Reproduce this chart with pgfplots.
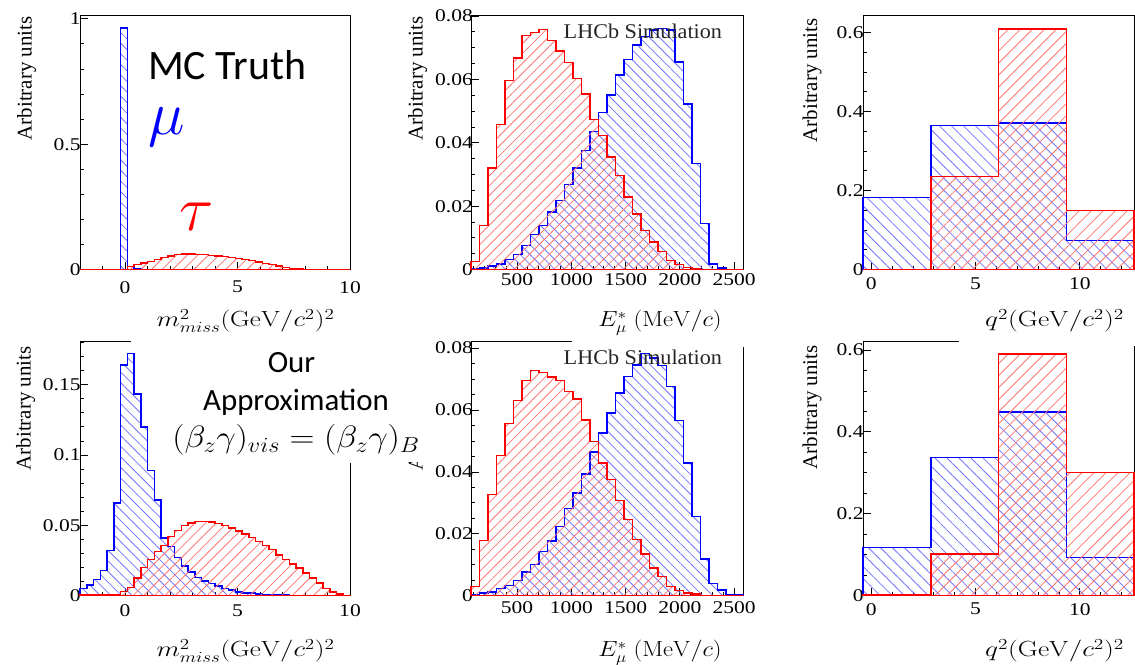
\RequirePackage{fix-cm}
\documentclass[border=0pt]{standalone}
\usepackage[no-math]{fontspec}
\setmainfont{Liberation Serif}
\newfontfamily\calibri{Carlito}
\usepackage{pgfplots}
\usepackage{pgfplotstable}
\pgfplotsset{compat=1.18}
\usetikzlibrary{patterns.meta}

% m^2_miss, MC truth: bin left edge, tau and mu contents (last row closes the last bin)
\pgfplotstableread{
edge tau mu
-2.0 0 0
-1.7 0 0
-1.4 0 0
-1.1 0 0
-0.8 0 0
-0.5 0 0
-0.2 0 0.964
0.1 0.012 0.012
0.4 0.020 0.004
0.7 0.027 0
1.0 0.033 0
1.3 0.040 0
1.6 0.048 0
1.9 0.055 0
2.2 0.060 0
2.5 0.0626 0
2.8 0.0626 0
3.1 0.061 0
3.4 0.060 0
3.7 0.057 0
4.0 0.055 0
4.3 0.052 0
4.6 0.048 0
4.9 0.044 0
5.2 0.040 0
5.5 0.036 0
5.8 0.031 0
6.1 0.025 0
6.4 0.020 0
6.7 0.015 0
7.0 0.009 0
7.3 0.005 0
7.6 0.003 0
7.9 0 0
8.2 0 0
8.5 0 0
8.8 0 0
9.1 0 0
9.4 0 0
9.7 0 0
10.0 0 0
}\mmtrue

% m^2_miss, approximation
\pgfplotstableread{
edge tau mu
-2.0 0.0004 0.0050
-1.7 0.0004 0.0075
-1.4 0.0004 0.0115
-1.1 0.0004 0.0180
-0.8 0.0006 0.0320
-0.5 0.0010 0.0660
-0.2 0.0030 0.1640
0.1 0.0060 0.1720
0.4 0.0125 0.1435
0.7 0.0200 0.1200
1.0 0.0258 0.0890
1.3 0.0315 0.0680
1.6 0.0358 0.0410
1.9 0.0420 0.0350
2.2 0.0465 0.0270
2.5 0.0498 0.0210
2.8 0.0517 0.0170
3.1 0.0526 0.0130
3.4 0.0526 0.0105
3.7 0.0522 0.0085
4.0 0.0512 0.0068
4.3 0.0498 0.0052
4.6 0.0480 0.0040
4.9 0.0460 0.0028
5.2 0.0440 0.0020
5.5 0.0415 0.0018
5.8 0.0386 0.0012
6.1 0.0358 0.0008
6.4 0.0327 0.0007
6.7 0.0290 0.0006
7.0 0.0258 0.0005
7.3 0.0225 0
7.6 0.0197 0
7.9 0.0161 0
8.2 0.0126 0
8.5 0.0090 0
8.8 0.0050 0
9.1 0.0026 0
9.4 0.0012 0
9.7 0.0003 0
10.0 0.0003 0
}\mmapprox

% E*_mu, MC truth
\pgfplotstableread{
edge tau mu
76 0.0026 0.0002
154.3 0.0139 0.0005
232.6 0.0320 0.0011
310.9 0.0457 0.0018
389.2 0.0597 0.0032
467.5 0.0667 0.0047
545.8 0.0738 0.0076
624.1 0.0748 0.0110
702.4 0.0757 0.0139
780.7 0.0723 0.0181
859.0 0.0690 0.0218
937.3 0.0653 0.0268
1015.6 0.0602 0.0320
1093.9 0.0553 0.0376
1172.2 0.0474 0.0436
1250.5 0.0423 0.0495
1328.8 0.0355 0.0550
1407.1 0.0297 0.0613
1485.4 0.0229 0.0662
1563.7 0.0176 0.0708
1642.0 0.0124 0.0735
1720.3 0.0087 0.0755
1798.6 0.0057 0.0760
1876.9 0.0029 0.0755
1955.2 0.0016 0.0655
2033.5 0.0006 0.0523
2111.8 0.0002 0.0334
2190.1 0 0.0145
2268.4 0 0.0018
2346.7 0 0.0005
2425.0 0 0
2503.3 0 0
2581.6 0 0
}\emtrue

% E*_mu, approximation
\pgfplotstableread{
edge tau mu
76 0.0030 0.0002
154.3 0.0178 0.0009
232.6 0.0327 0.0012
310.9 0.0453 0.0023
389.2 0.0556 0.0033
467.5 0.0631 0.0049
545.8 0.0695 0.0077
624.1 0.0728 0.0100
702.4 0.0721 0.0143
780.7 0.0706 0.0176
859.0 0.0695 0.0224
937.3 0.0659 0.0281
1015.6 0.0636 0.0332
1093.9 0.0568 0.0394
1172.2 0.0498 0.0464
1250.5 0.0429 0.0526
1328.8 0.0375 0.0591
1407.1 0.0308 0.0655
1485.4 0.0246 0.0708
1563.7 0.0181 0.0746
1642.0 0.0135 0.0782
1720.3 0.0089 0.0768
1798.6 0.0062 0.0743
1876.9 0.0030 0.0676
1955.2 0.0017 0.0566
2033.5 0.0009 0.0428
2111.8 0.0005 0.0256
2190.1 0 0.0118
2268.4 0 0.0040
2346.7 0 0.0018
2425.0 0 0.0003
2503.3 0 0.0002
2581.6 0 0.0002
}\emapprox

% q^2, MC truth
\pgfplotstableread{
edge tau mu
-0.4 0 0.182
2.85 0.235 0.364
6.1 0.609 0.371
9.35 0.149 0.074
12.6 0.149 0.074
}\qqtrue

% q^2, approximation
\pgfplotstableread{
edge tau mu
-0.4 0.002 0.118
2.85 0.102 0.337
6.1 0.590 0.448
9.35 0.301 0.093
12.6 0.301 0.093
}\qqapprox

\pgfplotsset{
  rootframe/.style={
    scale only axis, width=271bp, height=254.6bp, anchor=south west,
    ymin=0, clip=false,
    tick pos=left, tick align=inside,
    major tick length=8bp, minor tick length=4bp,
    tick style={black, line width=0.8bp},
    axis line style={line width=0.9bp},
    scaled ticks=false,
    /pgf/number format/assume math mode=true,
    ticklabel style={font=\fontsize{18}{21}\selectfont, xscale=1.2},
    yticklabel style={xshift=4bp},
  },
  openframe/.style={axis line style={draw=none}},
  muhist/.style={const plot, draw=blue, line width=1.5bp, line join=miter,
    pattern={Lines[angle=-45, distance=#1, line width=0.8bp]}, pattern color=blue!55},
  muhist/.default=7.5bp,
  tauhist/.style={const plot, draw=red, line width=1.5bp, line join=miter,
    pattern={Lines[angle=45, distance=#1, line width=0.8bp]}, pattern color=red!55},
  tauhist/.default=7.5bp,
  mmaxis/.style={xmin=-2, xmax=10,
    xtick={0,5,10}, xticklabels={0,5,10}, minor xtick={-1,1,2,3,4,6,7,8,9}},
  emaxis/.style={xmin=76, xmax=2581.6,
    xtick={500,1000,1500,2000,2500}, xticklabels={500,1000,1500,2000,2500},
    minor xtick={100,200,300,400,600,700,800,900,1100,1200,1300,1400,1600,1700,1800,1900,2100,2200,2300,2400},
    ytick={0,0.02,0.04,0.06,0.08}, yticklabels={0,0.02,0.04,0.06,0.08},
    minor ytick={0.005,0.01,0.015,0.025,0.03,0.035,0.045,0.05,0.055,0.065,0.07,0.075}},
  qqaxis/.style={xmin=-0.4, xmax=12.6,
    xtick={0,5,10}, xticklabels={0,5,10}, minor xtick={1,2,3,4,6,7,8,9,11,12},
    ytick={0,0.2,0.4,0.6}, yticklabels={0,0.2,0.4,0.6},
    minor ytick={0.05,0.1,0.15,0.25,0.3,0.35,0.45,0.5,0.55}},
}

\begin{document}
\begin{tikzpicture}[x=1bp, y=1bp]
\path[use as bounding box] (0,0) rectangle (1135,665);

% frames of the lower row, partly hidden behind the overlay texts
\begin{scope}[line width=0.9bp]
\draw (131,324) -- (80,324) -- (80,69.3) -- (350,69.3) -- (350,202);
\draw (572,324) -- (471,324) -- (471,69.3) -- (743,69.3) -- (743,318);
\draw (959,324) -- (863,324) -- (863,69.3) -- (1134,69.3) -- (1134,319);
\end{scope}

% ---------- upper row: MC truth ----------
\begin{axis}[rootframe, mmaxis, at={(80bp,395.4bp)}, width=270bp, ymax=1.015,
  ytick={0,0.5,1}, yticklabels={0,0.5,1},
  minor ytick={0.1,0.2,0.3,0.4,0.6,0.7,0.8,0.9},
  xticklabel style={yshift=-8bp}]
\addplot[muhist] table[x=edge, y=mu] {\mmtrue} \closedcycle;
\addplot[tauhist] table[x=edge, y=tau] {\mmtrue} \closedcycle;
\end{axis}

\begin{axis}[rootframe, emaxis, at={(471bp,395.4bp)}, width=272bp, ymax=0.0803,
  xticklabel style={yshift=0bp}, yticklabel style={xshift=1bp}]
\addplot[muhist=7bp] table[x=edge, y=mu] {\emtrue} \closedcycle;
\addplot[tauhist=7bp] table[x=edge, y=tau] {\emtrue} \closedcycle;
\end{axis}

\begin{axis}[rootframe, qqaxis, at={(863bp,395.4bp)}, width=271bp, ymax=0.644,
  xticklabel style={yshift=-4.5bp}]
\addplot[muhist=8.5bp] table[x=edge, y=mu] {\qqtrue} \closedcycle;
\addplot[tauhist=8.5bp] table[x=edge, y=tau, skip first n=1] {\qqtrue} \closedcycle;
\end{axis}

% ---------- lower row: approximation ----------
\begin{axis}[rootframe, openframe, mmaxis, at={(80bp,69.3bp)}, width=270bp, height=254.7bp, ymax=0.181,
  ytick={0,0.05,0.1,0.15}, yticklabels={0,0.05,0.1,0.15},
  minor ytick={0.01,0.02,0.03,0.04,0.06,0.07,0.08,0.09,0.11,0.12,0.13,0.14,0.16,0.17,0.18},
  xticklabel style={yshift=-5.5bp}]
\addplot[muhist] table[x=edge, y=mu] {\mmapprox} \closedcycle;
\addplot[tauhist] table[x=edge, y=tau] {\mmapprox} \closedcycle;
\end{axis}

\begin{axis}[rootframe, openframe, emaxis, at={(471bp,69.3bp)}, width=272bp, height=254.7bp, ymax=0.0823,
  xticklabel style={yshift=-2.5bp}, yticklabel style={xshift=1bp}]
\addplot[muhist=7bp] table[x=edge, y=mu] {\emapprox} \closedcycle;
\addplot[tauhist=7bp] table[x=edge, y=tau] {\emapprox} \closedcycle;
\end{axis}

\begin{axis}[rootframe, openframe, qqaxis, at={(863bp,69.3bp)}, width=271bp, height=254.7bp, ymax=0.622,
  xticklabel style={yshift=-4bp}]
\addplot[muhist=8.5bp] table[x=edge, y=mu] {\qqapprox} \closedcycle;
\addplot[tauhist=8.5bp] table[x=edge, y=tau] {\qqapprox} \closedcycle;
\end{axis}

% ---------- axis titles ----------
\begin{scope}[every node/.style={rotate=90, anchor=east, font=\fontsize{21}{25}\selectfont}]
\node at (26.5,652) {Arbitrary units};
\node at (417.5,652) {Arbitrary units};
\node at (812,650) {Arbitrary units};
\node at (25.5,322) {Arbitrary units};
\node at (417.5,322) {Arbitrary units};
\node at (812,323) {Arbitrary units};
\end{scope}

\begin{scope}[every node/.style={anchor=base west, font=\fontsize{21}{25}\selectfont, xscale=1.06, text=black!85}]
\node at (560,626.3) {LHCb Simulation};
\node at (560,300.3) {LHCb Simulation};
\end{scope}

\begin{scope}[every node/.style={anchor=base, font=\fontsize{22}{26}\selectfont}]
\node[xscale=1.24] at (245.5,338) {$m^2_{miss}(\mathrm{GeV}/c^2)^2$};
\node[xscale=1.24] at (245.5,8) {$m^2_{miss}(\mathrm{GeV}/c^2)^2$};
\node[xscale=1.12] at (660,338) {$E^*_\mu\;(\mathrm{MeV}/c)$};
\node[xscale=1.12] at (660,8) {$E^*_\mu\;(\mathrm{MeV}/c)$};
\node[xscale=1.26] at (1054.5,338) {$q^2(\mathrm{GeV}/c^2)^2$};
\node[xscale=1.26] at (1054.5,8) {$q^2(\mathrm{GeV}/c^2)^2$};
\end{scope}

% ---------- annotations ----------
\node[anchor=base west, inner sep=0pt, font=\calibri\fontsize{42}{50}\selectfont] at (148,585) {MC Truth};
\node[text=blue, inner sep=0pt, font=\fontsize{62}{68}\selectfont] at (166.5,538) {$\mu$};
\node[text=red, inner sep=0pt, font=\fontsize{64}{70}\selectfont] at (196.5,448.5) {$\tau$};

\fill[white] (352,327) rectangle (433,203);
\node[anchor=base, font=\calibri\fontsize{31}{37}\selectfont] at (291.5,292.5) {Our};
\node[anchor=base, font=\calibri\fontsize{31}{37}\selectfont] at (296,254.5) {Approximation};
\node[anchor=base, xscale=1.12, font=\fontsize{31}{37}\selectfont] at (296,217) {$(\beta_z\gamma)_{vis} = (\beta_z\gamma)_B$};
\end{tikzpicture}
\end{document}
